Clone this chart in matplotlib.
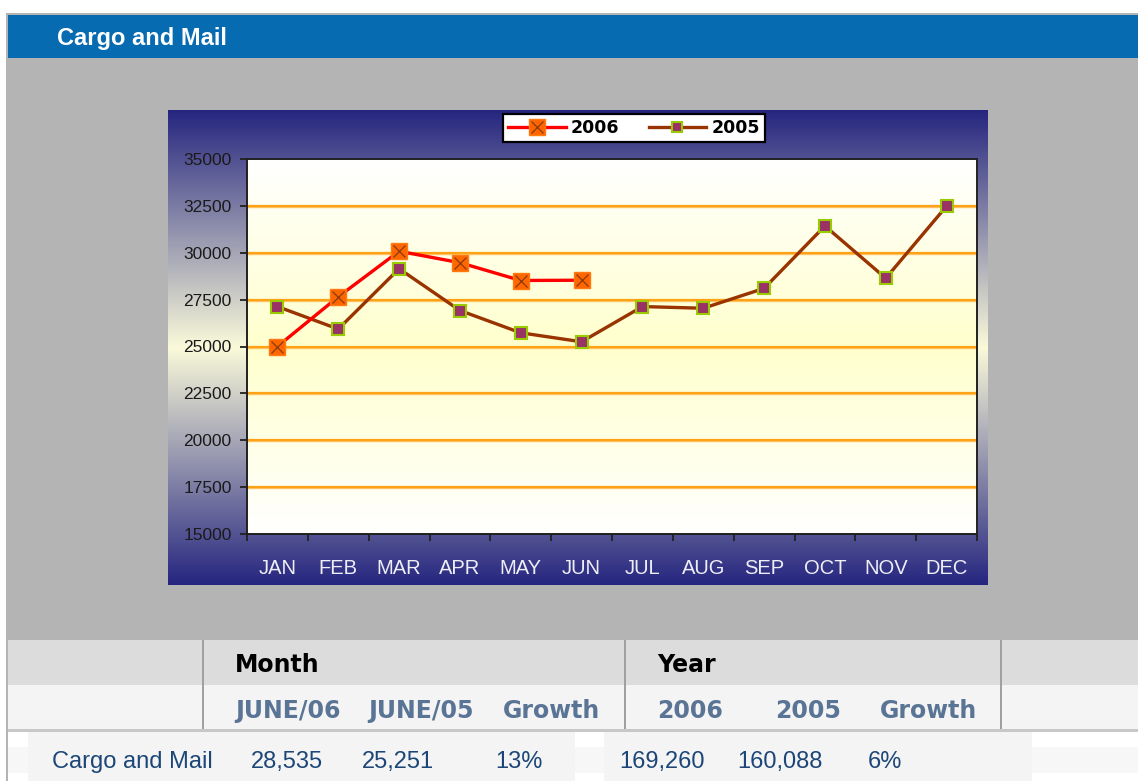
import numpy as np
import matplotlib
matplotlib.use("Agg")
import matplotlib.pyplot as plt
from matplotlib.patches import Rectangle
from matplotlib.lines import Line2D

# Data
months = ["JAN", "FEB", "MAR", "APR", "MAY", "JUN",
          "JUL", "AUG", "SEP", "OCT", "NOV", "DEC"]
cargo_2006 = [25000, 27650, 30080, 29470, 28520, 28535]
cargo_2005 = [27130, 25930, 29150, 26920, 25730, 25251,
              27130, 27040, 28100, 31430, 28640, 32490]
y_ticks = [15000, 17500, 20000, 22500, 25000, 27500, 30000, 32500, 35000]

# Summary table
month_heads = ["JUNE/06", "JUNE/05", "Growth"]
year_heads = ["2006", "2005", "Growth"]
row_label = "Cargo and Mail"
month_vals = ["28,535", "25,251", "13%"]
year_vals = ["169,260", "160,088", "6%"]

W, H = 1138, 781
fig = plt.figure(figsize=(W / 100, H / 100), dpi=100)

# background axes in pixel coordinates
bg = fig.add_axes([0, 0, 1, 1])
bg.set_xlim(0, W)
bg.set_ylim(H, 0)
bg.axis("off")


def box(x0, y0, x1, y1, color, z=1):
    bg.add_patch(Rectangle((x0, y0), x1 - x0, y1 - y0, facecolor=color,
                           edgecolor="none", zorder=z))


box(6, 13, W, 640, "#b4b4b4")
box(8, 15, W, 58, "#066bb1", 2)
bg.text(57, 38, "Cargo and Mail", color="white", fontsize=17, fontweight="bold",
        family="Liberation Sans", va="center", ha="left", zorder=3)


# vertical gradient: edge colour at top/bottom, mid colour in the middle
def vgrad(c_edge, c_mid, n=256, power=1.0):
    t = np.linspace(0, 1, n)
    d = np.abs(t - 0.5) * 2
    d = d ** power
    c_edge = np.array(c_edge) / 255.0
    c_mid = np.array(c_mid) / 255.0
    rows = c_mid[None, :] * (1 - d[:, None]) + c_edge[None, :] * d[:, None]
    return rows[:, None, :]


bg.imshow(vgrad((38, 38, 128), (250, 250, 218), power=1.0),
          extent=(168, 988, 585, 110), aspect="auto", zorder=2)
bg.set_xlim(0, W)
bg.set_ylim(H, 0)

# table
box(6, 640, W, 685, "#dcdcdc")
box(6, 685, W, 729, "#f4f4f4")
box(6, 729, W, 732, "#c8c8c8")
box(6, 732, W, H, "white")
box(6, 747, W, 773, "#f7f7f7")
box(28, 732, 575, H, "#f4f4f4")
box(604, 732, 1032, H, "#f4f4f4")
box(6, 13, 8, H, "#b4b4b4", 3)
for xs in [203, 625, 1001]:
    box(xs - 1, 640, xs + 1, 729, "#a0a0a0", 3)

bg.text(235, 665, "Month", fontsize=17, fontweight="bold", family="DejaVu Sans",
        va="center", ha="left", color="black", zorder=4)
bg.text(657, 665, "Year", fontsize=17, fontweight="bold", family="DejaVu Sans",
        va="center", ha="left", color="black", zorder=4)
for x, s in zip([235, 368, 503], month_heads):
    bg.text(x, 711, s, fontsize=17, fontweight="bold", family="DejaVu Sans",
            va="center", ha="left", color="#5a7495", zorder=4)
for x, s in zip([657, 775, 880], year_heads):
    bg.text(x, 711, s, fontsize=17, fontweight="bold", family="DejaVu Sans",
            va="center", ha="left", color="#5a7495", zorder=4)
bg.text(52, 762, row_label, fontsize=17, family="Liberation Sans",
        va="center", ha="left", color="#1c4677", zorder=4)
for x, s in zip([251, 362, 495], month_vals):
    bg.text(x, 762, s, fontsize=17, family="Liberation Sans",
            va="center", ha="left", color="#1c4677", zorder=4)
for x, s in zip([619, 737, 868], year_vals):
    bg.text(x, 762, s, fontsize=17, family="Liberation Sans",
            va="center", ha="left", color="#1c4677", zorder=4)

# plot area
ax = fig.add_axes([247 / W, 1 - 534 / H, 730 / W, 375 / H])
ax.set_facecolor("none")
n = len(months)
ax.imshow(vgrad((255, 255, 255), (255, 255, 205)),
          extent=(-0.5, n - 0.5, 15000, 35000), aspect="auto", zorder=0)
ax.set_xlim(-0.5, n - 0.5)
ax.set_ylim(15000, 35000)

for v in y_ticks[1:-1]:
    ax.axhline(v, color="#ffc060", lw=2.4, zorder=1)
    ax.axhline(v, color="#ff9a00", lw=1.1, zorder=1)

x05 = np.arange(len(cargo_2005))
x06 = np.arange(len(cargo_2006))
ax.plot(x05, cargo_2005, color="#993300", lw=2.4, zorder=3)
ax.plot(x05, cargo_2005, ls="none", marker="s", ms=8, mfc="#993366",
        mec="#99cc00", mew=1.5, zorder=4)
ax.plot(x06, cargo_2006, color="#ff0000", lw=2.4, zorder=5)
ax.plot(x06, cargo_2006, ls="none", marker="s", ms=11.5, mfc="#ff6600",
        mec="#ff7a10", mew=1, zorder=6)
ax.plot(x06, cargo_2006, ls="none", marker="x", ms=8, mec="#8a3a10",
        mew=0.9, zorder=7)

for s in ax.spines.values():
    s.set_color("#202020")
    s.set_linewidth(1.4)

ax.set_yticks(y_ticks)
ax.set_yticklabels([str(v) for v in y_ticks])
ax.tick_params(axis="y", length=5, width=1.3, color="#202020", pad=6,
               labelsize=12.5, labelcolor="#1a1a1a")
for t in ax.get_yticklabels():
    t.set_family("Liberation Sans")

ax.set_xticks(np.arange(-0.5, n, 1.0))
ax.set_xticklabels([])
ax.tick_params(axis="x", which="major", length=5, width=1.3, color="#202020")
ax.set_xticks(np.arange(n), minor=True)
ax.set_xticklabels(months, minor=True)
ax.tick_params(axis="x", which="minor", length=0, pad=18, labelsize=14.5,
               labelcolor="#eeeef6")
for t in ax.get_xticklabels(minor=True):
    t.set_family("Liberation Sans")

# legend
h06 = (Line2D([], [], color="#ff0000", lw=2.4, marker="s", ms=11.5,
              mfc="#ff6600", mec="#ff7a10"),
       Line2D([], [], ls="none", marker="x", ms=8, mec="#8a3a10", mew=0.9))
h05 = Line2D([], [], color="#993300", lw=2.4, marker="s", ms=7,
             mfc="#993366", mec="#99cc00", mew=1.5)
leg = fig.legend([h06, h05], ["2006", "2005"], loc="center",
                 bbox_to_anchor=(634 / W, 1 - 128 / H), ncol=2, frameon=True,
                 fancybox=False, handlelength=3.3, handletextpad=0.3,
                 columnspacing=1.7, borderpad=0.3,
                 prop={"family": "DejaVu Sans", "weight": "bold", "size": 12.5})
leg.get_frame().set_edgecolor("black")
leg.get_frame().set_linewidth(1.6)
leg.get_frame().set_facecolor("white")
leg.get_frame().set_alpha(1)

fig.savefig("out.png", dpi=100)
